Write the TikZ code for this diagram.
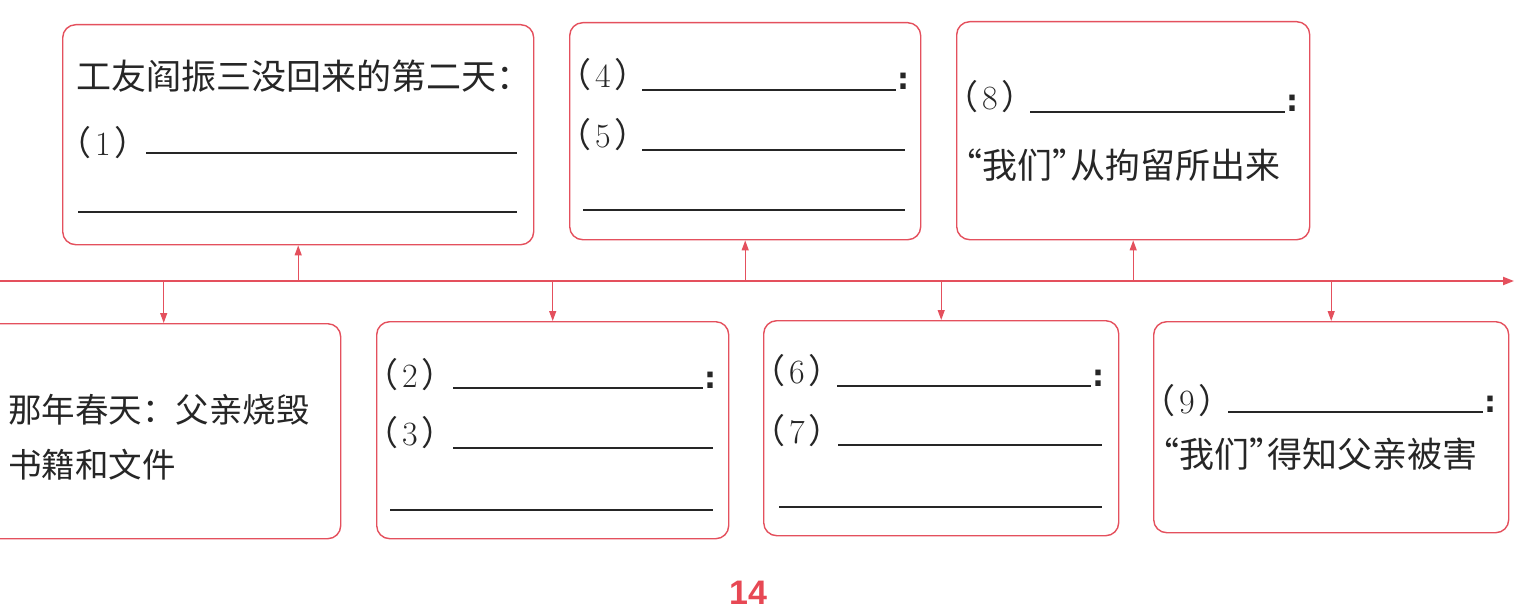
\documentclass[tikz,border=0pt]{standalone}
\usepackage{fontspec}
\newfontfamily\cjk{Noto Sans CJK SC}
\newfontfamily\pgfont{Liberation Sans}
\newfontfamily\colfont{DejaVu Sans}
\usetikzlibrary{arrows.meta}
\definecolor{pk}{HTML}{E4505D}
\newcommand\pnum[1]{{\cjk （}\hspace{4pt}{\rmfamily #1}\hspace{4pt}{\cjk ）}}
\newcommand\myLq{\hspace{-0.5em}“}
\newcommand\myRq{”\hspace{-0.5em}}
\begin{document}
\begin{tikzpicture}[x=1pt,y=-1pt,
  box/.style={draw=pk, line width=1.4pt, rounded corners=13pt, inner sep=0pt, anchor=north west},
  arr/.style={draw=pk, line width=1.2pt, -{Triangle[length=10pt,width=7pt]}},
  tline/.style={draw=pk, line width=2pt, -{Triangle[length=11pt,width=8pt]}},
  blank/.style={draw=black!85, line width=1.6pt},
  txt/.style={inner sep=0pt, anchor=base west, font=\cjk\fontsize{34}{40}\selectfont, text=black!85},
  colon/.style={inner sep=0pt, anchor=base west, font=\colfont\bfseries\fontsize{30}{34}\selectfont, text=black!85},
]
\useasboundingbox (0,0) rectangle (1515,615);

% timeline
\coordinate (t0) at (0,281);
\coordinate (t1) at (1514,281);
\draw[tline] (t0) -- (t1);

% boxes
\node[box, minimum width=471pt, minimum height=220pt] (A) at (62,24) {};
\node[box, minimum width=351pt, minimum height=217pt] (B) at (569,22) {};
\node[box, minimum width=353pt, minimum height=218pt] (C) at (956,21) {};
\node[box, minimum width=354pt, minimum height=215pt] (D) at (-14,323) {};
\node[box, minimum width=352pt, minimum height=217pt] (E) at (376,321) {};
\node[box, minimum width=355pt, minimum height=215pt] (F) at (763,320) {};
\node[box, minimum width=355pt, minimum height=211pt] (G) at (1153,321) {};

% arrows
\draw[arr] (A.south |- t0) -- (A.south);
\draw[arr] (B.south |- t0) -- (B.south);
\draw[arr] (C.south |- t0) -- (C.south);
\draw[arr] (D.north |- t0) -- (D.north);
\draw[arr] (E.north |- t0) -- (E.north);
\draw[arr] (F.north |- t0) -- (F.north);
\draw[arr] (G.north |- t0) -- (G.north);

% box A
\node[txt, font=\cjk\fontsize{35}{40}\selectfont] (a1) at (76,90) {工友阎振三没回来的第二天：};
\node[txt] (a2) at (57,155) {\pnum{1}};
\draw[blank] (146,153) -- (517,153);
\draw[blank] (78,212) -- (517,212);

% box B
\node[txt] (b1) at (557,88) {\pnum{4}};
\draw[blank] (642,90) -- (896,90);
\node[colon] (b1c) at (897,90) {:};
\node[txt] (b2) at (557,147) {\pnum{5}};
\draw[blank] (642,150) -- (905,150);
\draw[blank] (583,210) -- (905,210);

% box C
\node[txt] (c1) at (944,110) {\pnum{8}};
\draw[blank] (1030,112) -- (1285,112);
\node[colon] (c1c) at (1286,112) {:};
\node[txt, font=\cjk\fontsize{35}{40}\selectfont] (c2) at (965,178) {\myLq 我们\myRq 从拘留所出来};

% box D
\node[txt, font=\cjk\fontsize{33.5}{40}\selectfont] (d1) at (8,422) {那年春天：父亲烧毁};
\node[txt, font=\cjk\fontsize{33.5}{40}\selectfont] (d2) at (8,477) {书籍和文件};

% box E
\node[txt] (e1) at (364,387) {\pnum{2}};
\draw[blank] (453,388) -- (703,388);
\node[colon] (e1c) at (704,388) {:};
\node[txt] (e2) at (364,445) {\pnum{3}};
\draw[blank] (453,448) -- (713,448);
\draw[blank] (390,510) -- (713,510);

% box F
\node[txt] (f1) at (751,383) {\pnum{6}};
\draw[blank] (837,386) -- (1091,386);
\node[colon] (f1c) at (1092,386) {:};
\node[txt] (f2) at (751,443) {\pnum{7}};
\draw[blank] (838,445) -- (1102,445);
\draw[blank] (779,507) -- (1102,507);

% box G
\node[txt] (g1) at (1141,413) {\pnum{9}};
\draw[blank] (1228,412) -- (1483,412);
\node[colon] (g1c) at (1484,412) {:};
\node[txt, font=\cjk\fontsize{35}{40}\selectfont] (g2) at (1162,467) {\myLq 我们\myRq 得知父亲被害};

% page number
\node[inner sep=0pt, font=\pgfont\bfseries\fontsize{34}{40}\selectfont, text=pk!90!red] (pg) at (748,593) {14};
\end{tikzpicture}
\end{document}
